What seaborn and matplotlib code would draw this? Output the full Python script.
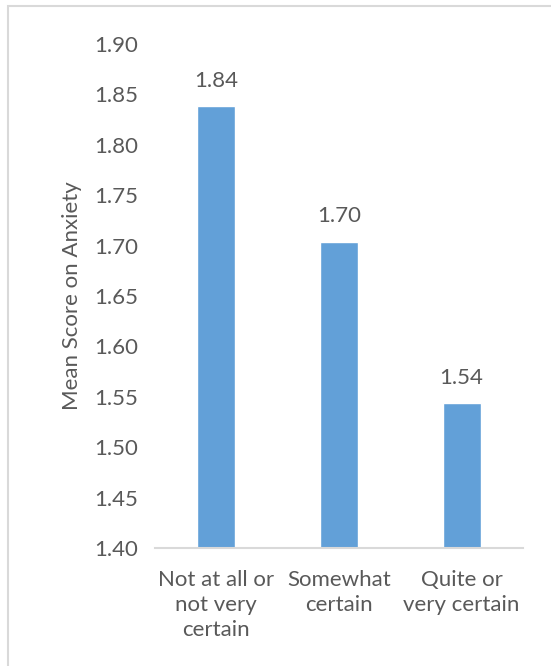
import matplotlib
matplotlib.use("Agg")
import matplotlib.pyplot as plt
import seaborn as sns
import pandas as pd
from matplotlib.patches import Rectangle

# Chart data
categories = ["Not at all or\nnot very\ncertain", "Somewhat\ncertain", "Quite or\nvery certain"]
mean_scores = [1.838, 1.704, 1.544]
y_ticks = [1.40, 1.45, 1.50, 1.55, 1.60, 1.65, 1.70, 1.75, 1.80, 1.85, 1.90]

BAR_COLOR = "#62A0D8"
TEXT_COLOR = "#595959"
AXIS_COLOR = "#D9D9D9"

sns.set_style("white")
plt.rcParams['font.family'] = ['Lato', 'DejaVu Sans']

df = pd.DataFrame({"category": categories, "score": mean_scores})

fig = plt.figure(figsize=(5.51, 6.66), dpi=100)
ax = fig.add_axes([0.281, 0.177, 0.668, 0.757])

sns.barplot(data=df, x="category", y="score", color=BAR_COLOR, width=0.31,
            saturation=1, ax=ax)

ax.set_ylim(y_ticks[0], y_ticks[-1])
ax.set_yticks(y_ticks)
ax.set_yticklabels([f"{t:.2f}" for t in y_ticks])
ax.set_xlim(-0.5, len(categories) - 0.5)

# data labels above bars
for i, v in enumerate(mean_scores):
    ax.annotate(f"{v:.2f}", (i, v), xytext=(0, 11), textcoords="offset points",
                ha="center", va="bottom", fontsize=16, color=TEXT_COLOR)

ax.set_xlabel("")
ax.set_ylabel("Mean Score on Anxiety", fontsize=16, color=TEXT_COLOR, labelpad=9)
ax.tick_params(axis="both", length=0, labelsize=16, labelcolor=TEXT_COLOR)
ax.tick_params(axis="x", pad=16)
ax.tick_params(axis="y", pad=12)
for lbl in ax.get_xticklabels():
    lbl.set_linespacing(1.3)

for side in ["top", "right", "left"]:
    ax.spines[side].set_visible(False)
ax.spines["bottom"].set_color(AXIS_COLOR)
ax.spines["bottom"].set_linewidth(1.5)

# chart area border (right/bottom edges fall outside the image)
fig.patches.append(Rectangle((0.014, -0.05), 1.1, 1.041, transform=fig.transFigure,
                             fill=False, edgecolor="#D9D9D9", linewidth=1.5))

fig.savefig("out.png", dpi=100)
